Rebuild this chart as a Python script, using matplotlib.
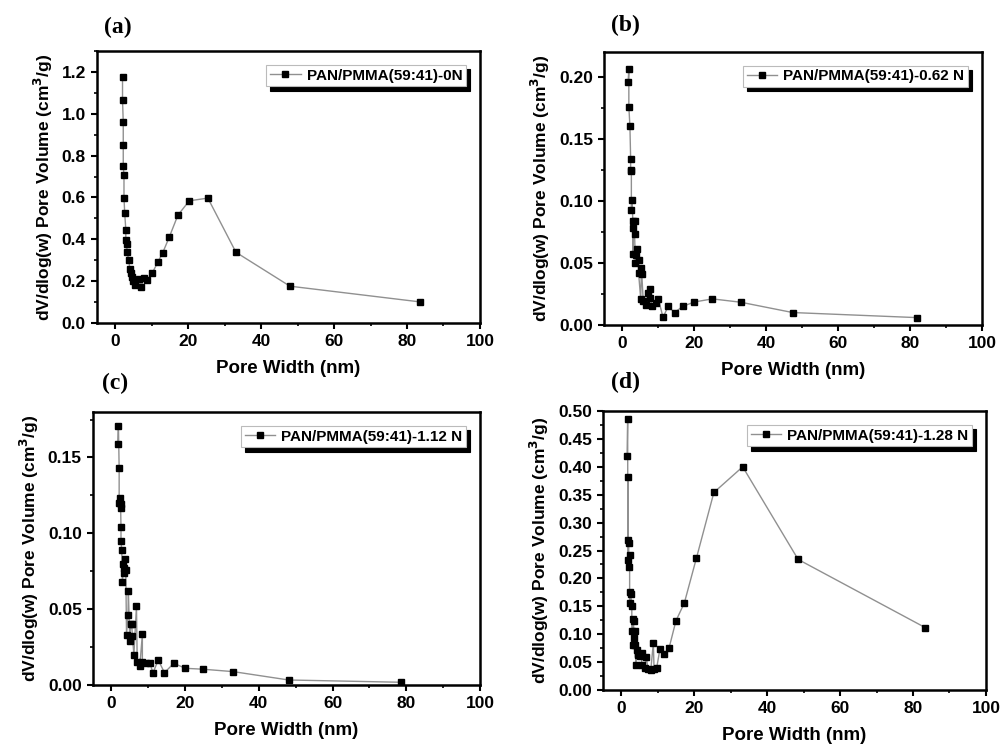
import matplotlib
matplotlib.use("Agg")
import matplotlib.pyplot as plt
from matplotlib.ticker import MultipleLocator

plt.rcParams["font.family"] = ["Liberation Sans", "DejaVu Sans"]
plt.rcParams["font.weight"] = "bold"

# pore size distributions, pore width (nm) vs dV/dlog(w)
w_0n = [2.0, 2.0, 2.2, 2.2, 2.2, 2.4, 2.4, 2.6, 2.9, 2.9, 3.1, 3.3, 3.7, 4.0, 4.4, 4.7,
        5.0, 5.5, 6.6, 7.0, 7.8, 8.7, 10.1, 11.7, 13.0, 14.8, 17.2, 20.3, 25.4, 33.1,
        47.9, 83.5]
v_0n = [1.178, 1.065, 0.960, 0.852, 0.749, 0.708, 0.599, 0.525, 0.446, 0.395, 0.376,
        0.337, 0.300, 0.260, 0.237, 0.221, 0.202, 0.184, 0.208, 0.170, 0.213, 0.205,
        0.237, 0.292, 0.335, 0.410, 0.516, 0.584, 0.597, 0.338, 0.176, 0.101]

w_062n = [1.9, 1.7, 1.9, 2.2, 2.4, 2.4, 2.6, 2.8, 2.6, 3.0, 3.5, 3.1, 3.5, 3.0, 4.3, 3.9,
          3.7, 4.6, 4.6, 5.4, 5.5, 5.2, 5.9, 6.6, 7.3, 7.7, 7.7, 8.4, 9.4, 10.1, 11.4,
          12.8, 14.6, 16.9, 20.1, 25.1, 33.0, 47.4, 82.0]
v_062n = [0.206, 0.196, 0.176, 0.160, 0.134, 0.125, 0.124, 0.101, 0.093, 0.084, 0.084,
          0.078, 0.073, 0.057, 0.061, 0.056, 0.050, 0.052, 0.042, 0.046, 0.041, 0.021,
          0.019, 0.016, 0.026, 0.029, 0.022, 0.015, 0.018, 0.021, 0.006, 0.015, 0.010,
          0.015, 0.0185, 0.021, 0.0183, 0.010, 0.0059]

w_112n = [1.9, 1.7, 2.1, 2.3, 2.1, 2.5, 2.5, 2.6, 2.6, 2.8, 3.2, 3.7, 3.5, 3.9, 3.4, 3.0,
          4.6, 4.5, 4.1, 5.2, 5.5, 5.7, 5.0, 6.8, 6.1, 7.0, 7.7, 8.4, 8.4, 9.3, 10.4,
          11.3, 12.7, 14.4, 16.9, 20.1, 24.9, 33.1, 48.1, 78.7]
v_112n = [0.171, 0.159, 0.143, 0.123, 0.120, 0.119, 0.117, 0.104, 0.095, 0.089, 0.080,
          0.083, 0.077, 0.076, 0.074, 0.068, 0.062, 0.046, 0.033, 0.040, 0.040, 0.032,
          0.029, 0.052, 0.020, 0.015, 0.0125, 0.0335, 0.015, 0.0143, 0.0143, 0.0081,
          0.0165, 0.0081, 0.0143, 0.011, 0.0104, 0.0088, 0.0033, 0.0018]

w_128n = [1.76, 1.6, 1.9, 1.8, 2.0, 2.3, 1.9, 2.1, 2.5, 2.6, 2.3, 2.9, 3.2, 3.4, 2.9, 3.8,
          3.4, 3.1, 3.9, 4.4, 4.7, 4.5, 5.1, 4.0, 5.6, 5.6, 6.4, 6.9, 7.3, 8.1, 9.0, 8.8,
          9.7, 10.6, 11.8, 13.1, 15.0, 17.3, 20.6, 25.4, 33.3, 48.5, 83.3]
v_128n = [0.485, 0.419, 0.382, 0.269, 0.264, 0.242, 0.233, 0.220, 0.175, 0.172, 0.156,
          0.151, 0.127, 0.124, 0.105, 0.106, 0.093, 0.080, 0.080, 0.072, 0.065, 0.062,
          0.061, 0.045, 0.066, 0.045, 0.039, 0.059, 0.038, 0.036, 0.037, 0.084, 0.039,
          0.073, 0.064, 0.075, 0.124, 0.156, 0.236, 0.354, 0.400, 0.234, 0.112]

panels = [
    ("(a)", "PAN/PMMA(59:41)-0N", w_0n, v_0n, 1.3, 0.2, 0.1,
     [0.0968, 0.5676, 0.3822, 0.3641], (118, 27)),
    ("(b)", "PAN/PMMA(59:41)-0.62 N", w_062n, v_062n, 0.22, 0.05, 0.025,
     [0.6028, 0.5650, 0.3772, 0.3655], (625, 25)),
    ("(c)", "PAN/PMMA(59:41)-1.12 N", w_112n, v_112n, 0.18, 0.05, 0.025,
     [0.0928, 0.0830, 0.3862, 0.3655], (115, 383)),
    ("(d)", "PAN/PMMA(59:41)-1.28 N", w_128n, v_128n, 0.5, 0.05, 0.025,
     [0.6018, 0.0763, 0.3822, 0.3735], (625, 382)),
]

fig = plt.figure(figsize=(10.02, 7.47), dpi=100)

for tag, name, w, v, ytop, ymaj, ymin, rect, tagpos in panels:
    ax = fig.add_axes(rect)
    order = sorted(range(len(w)), key=lambda i: w[i])
    ws = [w[i] for i in order]
    vs = [v[i] for i in order]
    ax.plot(ws, vs, color="#909090", lw=1.0, marker="s", ms=5,
            mfc="black", mec="black", label=name)
    ax.set_xlim(-5, 100)
    ax.set_ylim(0, ytop)
    ax.xaxis.set_major_locator(MultipleLocator(20))
    ax.xaxis.set_minor_locator(MultipleLocator(10))
    ax.yaxis.set_major_locator(MultipleLocator(ymaj))
    ax.yaxis.set_minor_locator(MultipleLocator(ymin))
    if ymaj < 0.1:
        ax.yaxis.set_major_formatter(plt.FormatStrFormatter("%.2f"))
    else:
        ax.yaxis.set_major_formatter(plt.FormatStrFormatter("%.1f"))
    ax.tick_params(which="major", direction="out", length=4, width=1.5,
                   labelsize=12.5, pad=4)
    ax.tick_params(which="minor", direction="out", length=2.5, width=1.2)
    for s in ax.spines.values():
        s.set_linewidth(1.8)
    ax.set_xlabel("Pore Width (nm)", fontsize=13.5, fontweight="bold", labelpad=8)
    ax.set_ylabel("dV/dlog(w) Pore Volume (cm$^\\mathbf{3}$/g)", fontsize=12.5,
                  fontweight="bold", labelpad=5)
    leg = ax.legend(loc="upper right", fontsize=11, frameon=True, fancybox=False,
                    shadow={"color": "black", "alpha": 1.0, "ox": 3, "oy": -3},
                    handlelength=2.0, borderpad=0.25, handletextpad=0.4,
                    borderaxespad=0.9)
    leg.get_frame().set_edgecolor("#bbbbbb")
    leg.get_frame().set_linewidth(0.8)
    for t in leg.get_texts():
        t.set_fontweight("bold")
    fig.text(tagpos[0] / 1002, 1 - tagpos[1] / 747, tag, ha="center", va="center",
             fontsize=17, fontweight="bold", family="Liberation Serif")

fig.savefig("out.png", dpi=100)
